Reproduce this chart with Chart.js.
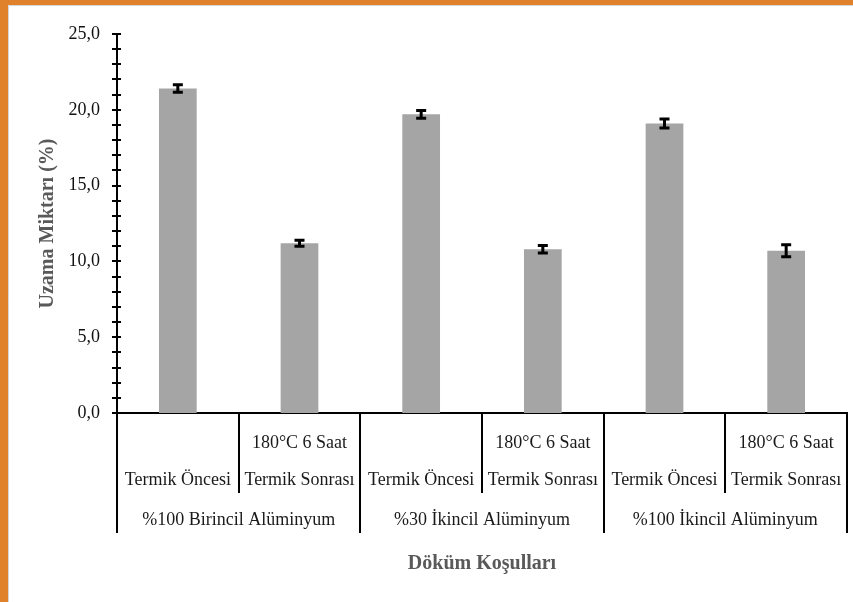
<!DOCTYPE html>
<html>
<head>
<meta charset="utf-8">
<script src="https://cdn.jsdelivr.net/npm/chart.js@4/dist/chart.umd.min.js"></script>
<style>
  html, body { margin: 0; padding: 0; background: #fff; }
  #frame {
    width: 853px; height: 602px; box-sizing: border-box;
    border-left: 8px solid #E0822B; border-top: 5px solid #E0822B;
    background: #fff;
  }
  #wrap { position: relative; width: 845px; height: 597px; }
</style>
</head>
<body>
<div id="frame"><div id="wrap"><canvas id="c" width="845" height="597"></canvas></div></div>
<script>
// Elongation (%) per casting condition, with standard deviation
const groups = ['%100 Birincil Alüminyum', '%30 İkincil Alüminyum', '%100 İkincil Alüminyum'];
const treatments = ['Termik Öncesi', 'Termik Sonrası'];
const treatmentTopLine = ['', '180°C 6 Saat'];
const categories = ['Termik Öncesi', 'Termik Sonrası', 'Termik Öncesi', 'Termik Sonrası', 'Termik Öncesi', 'Termik Sonrası'];
const elongation = [21.4, 11.2, 19.7, 10.8, 19.1, 10.7];
const elongationError = [0.25, 0.2, 0.25, 0.25, 0.3, 0.4];
const yTicks = [0, 5, 10, 15, 20, 25];

const SERIF = '"Liberation Serif", "Times New Roman", serif';

// whisker plugin: draws the standard deviation bars on top of each column
const errorBars = {
  id: 'errorBars',
  afterDatasetsDraw(chart) {
    const ctx = chart.ctx;
    const y = chart.scales.y;
    const meta = chart.getDatasetMeta(0);
    ctx.save();
    ctx.strokeStyle = '#000';
    ctx.lineWidth = 3;
    meta.data.forEach((bar, i) => {
      const v = elongation[i], e = elongationError[i];
      const yt = y.getPixelForValue(v + e);
      const yb = y.getPixelForValue(v - e);
      const x = bar.x;
      ctx.beginPath();
      ctx.moveTo(x, yt); ctx.lineTo(x, yb);
      ctx.moveTo(x - 5, yt); ctx.lineTo(x + 5, yt);
      ctx.moveTo(x - 5, yb); ctx.lineTo(x + 5, yb);
      ctx.stroke();
    });
    ctx.restore();
  }
};

// crossing tick marks on the value axis (major every 5, minor every 1)
const axisTicks = {
  id: 'axisTicks',
  afterDraw(chart) {
    const ctx = chart.ctx;
    const y = chart.scales.y;
    const ax = chart.chartArea.left;
    ctx.save();
    ctx.strokeStyle = '#000';
    ctx.lineWidth = 2;
    for (let v = y.min; v <= y.max; v += 1) {
      const py = Math.round(y.getPixelForValue(v));
      ctx.beginPath();
      ctx.moveTo(ax - 5, py); ctx.lineTo(ax + 4, py);
      ctx.stroke();
    }
    ctx.restore();
  }
};

// two-level category axis: treatment labels, group labels and dividers
const categoryTable = {
  id: 'categoryTable',
  afterDraw(chart) {
    const ctx = chart.ctx;
    const x = chart.scales.x;
    const base = chart.chartArea.bottom;
    const n = categories.length;
    const step = (x.getPixelForValue(1) - x.getPixelForValue(0));
    ctx.save();
    ctx.strokeStyle = '#000';
    ctx.lineWidth = 2;
    for (let i = 0; i <= n; i++) {
      const px = Math.round(x.getPixelForValue(i) - step / 2);
      const outer = (i % treatments.length) === 0;
      ctx.beginPath();
      ctx.moveTo(px, base);
      ctx.lineTo(px, base + (outer ? 120 : 80));
      ctx.stroke();
    }
    ctx.fillStyle = '#1a1a1a';
    ctx.font = '18px ' + SERIF;
    ctx.textAlign = 'center';
    ctx.textBaseline = 'middle';
    categories.forEach((label, i) => {
      const px = x.getPixelForValue(i);
      const top = treatmentTopLine[i % treatments.length];
      if (top) ctx.fillText(top, px, base + 30);
      ctx.fillText(label, px, base + 67);
    });
    groups.forEach((g, gi) => {
      const a = x.getPixelForValue(gi * treatments.length);
      const b = x.getPixelForValue(gi * treatments.length + treatments.length - 1);
      ctx.fillText(g, (a + b) / 2, base + 107);
    });
    ctx.restore();
  }
};

// thin light rule along the inner edge of the frame
const frameEdge = {
  id: 'frameEdge',
  beforeDraw(chart) {
    const ctx = chart.ctx;
    ctx.save();
    ctx.fillStyle = '#fff';
    ctx.fillRect(0, 0, chart.width, chart.height);
    ctx.strokeStyle = '#d6d6d6';
    ctx.lineWidth = 1;
    ctx.beginPath();
    ctx.moveTo(0.5, chart.height); ctx.lineTo(0.5, 0.5); ctx.lineTo(chart.width, 0.5);
    ctx.stroke();
    ctx.restore();
  }
};

new Chart(document.getElementById('c'), {
  type: 'bar',
  data: {
    labels: categories,
    datasets: [{
      data: elongation,
      backgroundColor: '#A5A5A5',
      borderWidth: 0,
      barPercentage: 0.31,
      categoryPercentage: 1.0
    }]
  },
  options: {
    responsive: false,
    animation: false,
    devicePixelRatio: 1,
    layout: { padding: { top: 29, right: 6, left: 0, bottom: 0 } },
    plugins: { legend: { display: false }, tooltip: { enabled: false } },
    scales: {
      x: {
        type: 'category',
        ticks: { display: false },
        grid: { display: false },
        border: { display: true, color: '#000', width: 2 },
        title: {
          display: true,
          text: 'Döküm Koşulları',
          color: '#595959',
          font: { family: SERIF, size: 20, weight: 'bold' },
          padding: { bottom: 26 }
        },
        afterFit(scale) { scale.height = 189; }
      },
      y: {
        min: yTicks[0],
        max: yTicks[yTicks.length - 1],
        afterBuildTicks(scale) { scale.ticks = yTicks.map(v => ({ value: v })); },
        ticks: {
          padding: 17,
          color: '#111',
          font: { family: SERIF, size: 18 },
          callback: v => Number(v).toFixed(1).replace('.', ',')
        },
        grid: { display: false, drawTicks: false },
        border: { display: true, color: '#000', width: 2 },
        title: {
          display: true,
          text: 'Uzama Miktarı (%)',
          color: '#595959',
          font: { family: SERIF, size: 20, weight: 'bold' },
          padding: { top: 28 }
        },
        afterFit(scale) { scale.width = 109; }
      }
    }
  },
  plugins: [frameEdge, errorBars, axisTicks, categoryTable]
});
</script>
</body>
</html>
